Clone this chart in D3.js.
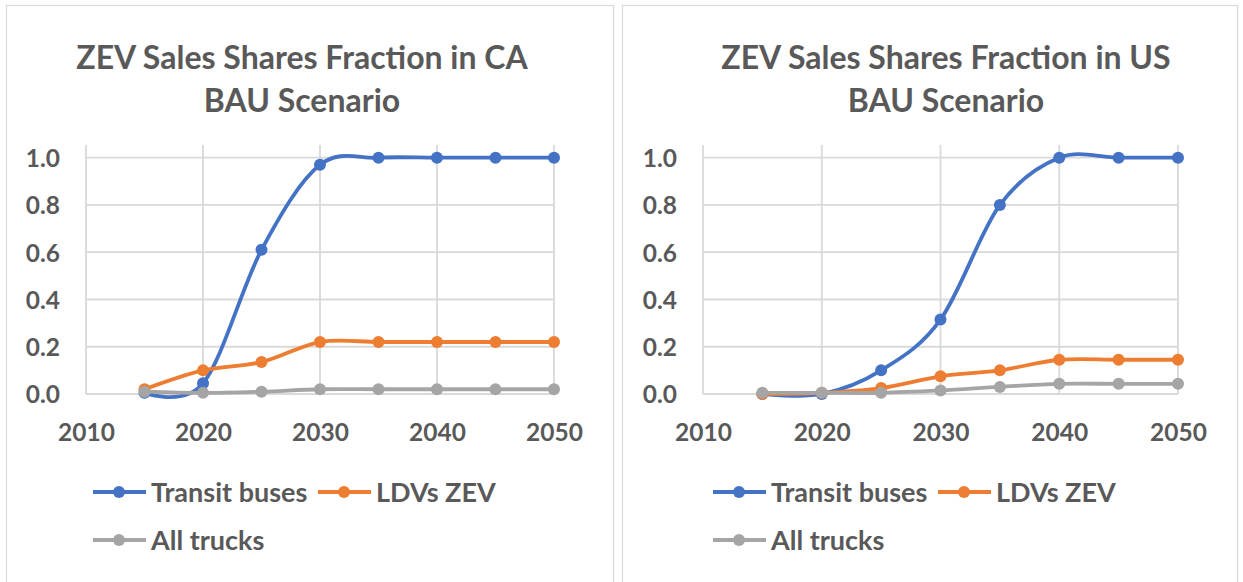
<!DOCTYPE html>
<html>
<head>
<meta charset="utf-8">
<script src="https://cdn.jsdelivr.net/npm/d3@7"></script>
<style>
  html, body { margin: 0; padding: 0; background: #fff; }
  svg text { font-family: Lato, "Open Sans", sans-serif; font-weight: 700; fill: #595959; }
</style>
</head>
<body>
<svg id="chart" width="1243" height="582"></svg>
<script>
// Data
const years = [2015, 2020, 2025, 2030, 2035, 2040, 2045, 2050];
const seriesNames = ['Transit buses', 'LDVs ZEV', 'All trucks'];
const seriesColors = ['#4472C4', '#ED7D31', '#A5A5A5'];

const caTransit = [0.005, 0.045, 0.61, 0.97, 1.0, 1.0, 1.0, 1.0];
const caLdv = [0.02, 0.1, 0.135, 0.22, 0.22, 0.22, 0.22, 0.22];
const caTrucks = [0.01, 0.005, 0.01, 0.02, 0.02, 0.02, 0.02, 0.02];

const usTransit = [0.0, 0.0, 0.1, 0.315, 0.8, 1.0, 1.0, 1.0];
const usLdv = [0.0, 0.005, 0.025, 0.075, 0.1, 0.145, 0.145, 0.145];
const usTrucks = [0.005, 0.005, 0.005, 0.015, 0.03, 0.043, 0.043, 0.043];

const xTicks = [2010, 2020, 2030, 2040, 2050];
const yTicks = [0, 0.2, 0.4, 0.6, 0.8, 1.0];
const titles = ['ZEV Sales Shares Fraction in CA', 'ZEV Sales Shares Fraction in US'];
const subtitle = 'BAU Scenario';

const svg = d3.select('#chart');

// one panel per chart, positions measured on the picture
const panels = [
    { left: 6, right: 613, titleX: 302, x0: 86, x1: 554, legendX: 93, series: [caTransit, caLdv, caTrucks], title: titles[0] },
    { left: 622, right: 1237, titleX: 946, x0: 703, x1: 1178, legendX: 713, series: [usTransit, usLdv, usTrucks], title: titles[1] }
];

const yZero = 394;
const yOne = 157.7;
const plotTop = 145;

panels.forEach(p => drawPanel(p));

function drawPanel(p) {
    const g = svg.append('g');

    // chart border
    g.append('rect')
        .attr('x', p.left + 0.5)
        .attr('y', 5.5)
        .attr('width', p.right - p.left)
        .attr('height', 600)
        .attr('fill', '#fff')
        .attr('stroke', '#d9d9d9')
        .attr('stroke-width', 1.2);

    // title, two lines
    g.append('text')
        .attr('x', p.titleX)
        .attr('y', 69)
        .attr('text-anchor', 'middle')
        .style('font-size', '32px')
        .text(p.title);
    g.append('text')
        .attr('x', p.titleX)
        .attr('y', 112)
        .attr('text-anchor', 'middle')
        .style('font-size', '32px')
        .text(subtitle);

    const x = d3.scaleLinear().domain([2010, 2050]).range([p.x0, p.x1]);
    const y = d3.scaleLinear().domain([0, 1]).range([yZero, yOne]);

    // gridlines
    const grid = g.append('g').attr('class', 'grid');
    grid.selectAll('line.h')
        .data(yTicks)
        .enter()
        .append('line')
        .attr('x1', p.x0)
        .attr('x2', p.x1)
        .attr('y1', d => y(d))
        .attr('y2', d => y(d))
        .attr('stroke', '#d9d9d9')
        .attr('stroke-width', 1.8);
    grid.selectAll('line.v')
        .data(xTicks)
        .enter()
        .append('line')
        .attr('x1', d => x(d))
        .attr('x2', d => x(d))
        .attr('y1', plotTop)
        .attr('y2', yZero)
        .attr('stroke', '#d9d9d9')
        .attr('stroke-width', 1.8);

    // axes, text only
    const xAxis = g.append('g')
        .attr('transform', `translate(0, ${yZero})`)
        .call(d3.axisBottom(x).tickValues(xTicks).tickFormat(d3.format('d')).tickSize(0).tickPadding(0));
    xAxis.select('.domain').remove();
    xAxis.selectAll('text')
        .attr('y', 46.5)
        .attr('dy', null)
        .style('font-size', '24.5px')
        .attr('fill', null);

    const yAxis = g.append('g')
        .attr('transform', `translate(${p.x0}, 0)`)
        .call(d3.axisLeft(y).tickValues(yTicks).tickFormat(d3.format('.1f')).tickSize(0).tickPadding(26));
    yAxis.select('.domain').remove();
    yAxis.selectAll('text')
        .attr('dy', '0.36em')
        .style('font-size', '24.5px')
        .attr('fill', null);

    // smoothed lines with markers
    const line = d3.line()
        .x((d, i) => x(years[i]))
        .y(d => y(d))
        .curve(d3.curveCardinal.tension(0));

    p.series.forEach((values, k) => {
        const s = g.append('g');
        s.append('path')
            .datum(values)
            .attr('d', line)
            .attr('fill', 'none')
            .attr('stroke', seriesColors[k])
            .attr('stroke-width', 3.8)
            .attr('stroke-linecap', 'round');
        s.selectAll('circle')
            .data(values)
            .enter()
            .append('circle')
            .attr('cx', (d, i) => x(years[i]))
            .attr('cy', d => y(d))
            .attr('r', 6)
            .attr('fill', seriesColors[k]);
    });

    // legend: two items on the first row, one on the second
    const legendPos = [[0, 492], [225, 492], [0, 540]];
    seriesNames.forEach((name, k) => {
        const lx = p.legendX + legendPos[k][0];
        const ly = legendPos[k][1];
        const item = g.append('g');
        item.append('line')
            .attr('x1', lx)
            .attr('x2', lx + 53)
            .attr('y1', ly)
            .attr('y2', ly)
            .attr('stroke', seriesColors[k])
            .attr('stroke-width', 3.8);
        item.append('circle')
            .attr('cx', lx + 26)
            .attr('cy', ly)
            .attr('r', 6)
            .attr('fill', seriesColors[k]);
        item.append('text')
            .attr('x', lx + 58)
            .attr('y', ly)
            .attr('dy', '0.36em')
            .style('font-size', '27px')
            .text(name);
    });
}
</script>
</body>
</html>
